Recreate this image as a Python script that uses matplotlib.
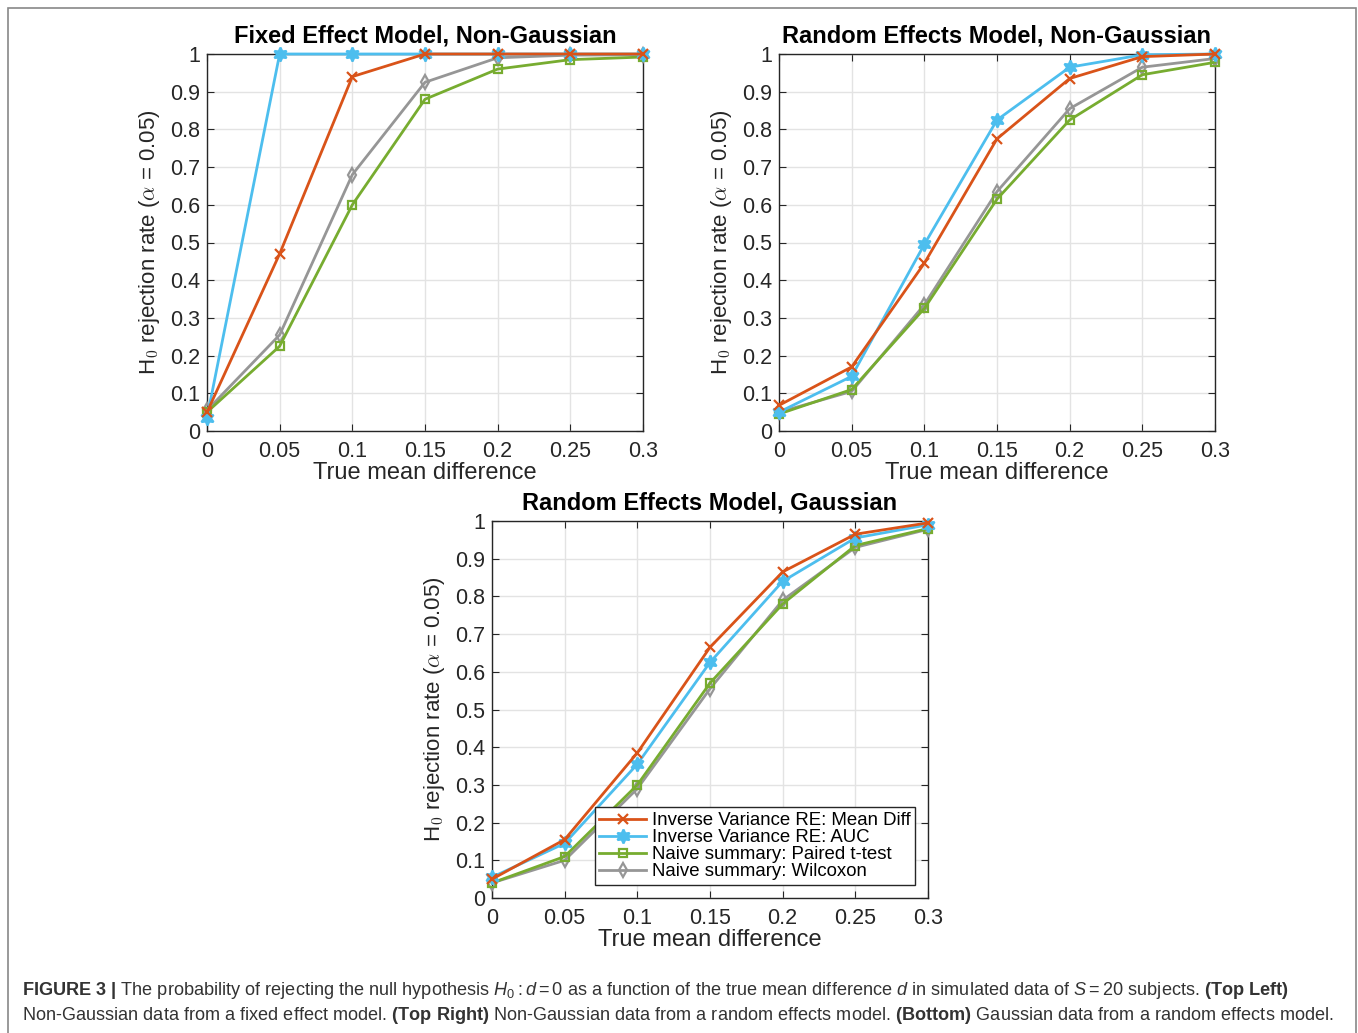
import numpy as np
import matplotlib.pyplot as plt
from matplotlib.patches import Rectangle

plt.rcParams['font.family'] = ['Liberation Sans', 'DejaVu Sans']
plt.rcParams['mathtext.fontset'] = 'custom'
plt.rcParams['mathtext.rm'] = 'Liberation Sans'
plt.rcParams['mathtext.it'] = 'Liberation Sans:italic'
plt.rcParams['mathtext.bf'] = 'Liberation Sans:bold'

# Data
diffs = [0, 0.05, 0.1, 0.15, 0.2, 0.25, 0.3]
x_ticklabels = ['0', '0.05', '0.1', '0.15', '0.2', '0.25', '0.3']
y_ticklabels = ['0', '0.1', '0.2', '0.3', '0.4', '0.5', '0.6', '0.7', '0.8', '0.9', '1']

series_names = ['Inverse Variance RE: Mean Diff', 'Inverse Variance RE: AUC',
                'Naive summary: Paired t-test', 'Naive summary: Wilcoxon']

# Fixed effect model, non-Gaussian
fe_ng_meandiff = [0.05, 0.47, 0.94, 1.0, 1.0, 1.0, 1.0]
fe_ng_auc = [0.035, 1.0, 1.0, 1.0, 1.0, 1.0, 1.0]
fe_ng_ttest = [0.05, 0.225, 0.60, 0.88, 0.96, 0.985, 0.992]
fe_ng_wilcoxon = [0.055, 0.255, 0.68, 0.925, 0.99, 0.997, 0.998]

# Random effects model, non-Gaussian
re_ng_meandiff = [0.068, 0.17, 0.445, 0.775, 0.935, 0.993, 1.0]
re_ng_auc = [0.05, 0.145, 0.495, 0.825, 0.965, 0.998, 1.0]
re_ng_ttest = [0.045, 0.11, 0.325, 0.615, 0.825, 0.945, 0.978]
re_ng_wilcoxon = [0.05, 0.105, 0.335, 0.635, 0.855, 0.965, 0.988]

# Random effects model, Gaussian
re_g_meandiff = [0.05, 0.155, 0.385, 0.665, 0.865, 0.965, 0.995]
re_g_auc = [0.055, 0.145, 0.355, 0.625, 0.84, 0.955, 0.99]
re_g_ttest = [0.04, 0.11, 0.30, 0.57, 0.78, 0.935, 0.98]
re_g_wilcoxon = [0.04, 0.10, 0.29, 0.555, 0.79, 0.93, 0.978]

colours = ['#D95319', '#4DBEEE', '#77AC30', '#969696']
markers = ['x', (6, 1, 0), 's', 'd']
msizes = [7, 10, 6, 7]

fig = plt.figure(figsize=(13.58, 10.33), dpi=100)
W, H = 1358, 1033

# light frame around the whole figure
fig.patches.append(Rectangle((8 / W, -0.05), (1356 - 8) / W, (1033 - 8) / H + 0.05,
                             transform=fig.transFigure, fill=False,
                             edgecolor='#888888', linewidth=1.2))


def make_axes(left_px, top_px, title, data):
    ax = fig.add_axes([left_px / W, (H - top_px - 377) / H, 436 / W, 377 / H])
    for i, vals in enumerate(data):
        ax.plot(diffs, vals, color=colours[i], marker=markers[i], markersize=msizes[i],
                markeredgewidth=1.6, markerfacecolor='none' if markers[i] in ('s', 'd') else colours[i],
                linewidth=2.0, label=series_names[i], clip_on=False, zorder=3 + (3 - i) * 0.1)
    ax.set_xlim(0, 0.3)
    ax.set_ylim(0, 1)
    ax.set_xticks(diffs)
    ax.set_xticklabels(x_ticklabels)
    ax.set_yticks(np.linspace(0, 1, 11))
    ax.set_yticklabels(y_ticklabels)
    ax.tick_params(direction='in', top=True, right=True, labelsize=15.5,
                   colors='#262626', length=5, width=0.8)
    ax.tick_params(axis='x', pad=7)
    ax.tick_params(axis='y', pad=5)
    ax.grid(True, color='#e3e3e3', linewidth=1.0)
    ax.set_axisbelow(True)
    for s in ax.spines.values():
        s.set_color('#262626')
        s.set_linewidth(1.0)
    ax.set_title(title, fontsize=17, fontweight='bold', pad=8)
    ax.set_xlabel('True mean difference', fontsize=17, color='#262626', labelpad=0)
    ax.set_ylabel(r'H$_0$ rejection rate ($\alpha$ = 0.05)', fontsize=16, color='#262626',
                  labelpad=6, math_fontfamily='cm')
    return ax


make_axes(207, 54, 'Fixed Effect Model, Non-Gaussian',
          [fe_ng_meandiff, fe_ng_auc, fe_ng_ttest, fe_ng_wilcoxon])
make_axes(779, 54, 'Random Effects Model, Non-Gaussian',
          [re_ng_meandiff, re_ng_auc, re_ng_ttest, re_ng_wilcoxon])
ax3 = make_axes(492, 521, 'Random Effects Model, Gaussian',
                [re_g_meandiff, re_g_auc, re_g_ttest, re_g_wilcoxon])

leg = ax3.legend(loc='lower right', bbox_to_anchor=(0.97, 0.035), borderaxespad=0,
                 fontsize=13.4, handlelength=2.5, handletextpad=0.3, labelspacing=0.0,
                 borderpad=0.25, fancybox=False, framealpha=1)
leg.get_frame().set_edgecolor('#262626')
leg.get_frame().set_linewidth(1.0)

cap1 = (r'$\mathbf{FIGURE\ 3\ |}$ The probability of rejecting the null hypothesis $H_0 : d = 0$ '
        r'as a function of the true mean difference $d$ in simulated data of $S = 20$ subjects. '
        r'$\mathbf{(Top\ Left)}$')
cap2 = (r'Non-Gaussian data from a fixed effect model. $\mathbf{(Top\ Right)}$ Non-Gaussian data '
        r'from a random effects model. $\mathbf{(Bottom)}$ Gaussian data from a random effects model.')
fig.text(22 / W, 1 - 995 / H, cap1, fontsize=13.1, color='#333333', va='baseline', ha='left')
fig.text(22 / W, 1 - 1020 / H, cap2, fontsize=13.1, color='#333333', va='baseline', ha='left')

fig.savefig('out.png', dpi=100)
